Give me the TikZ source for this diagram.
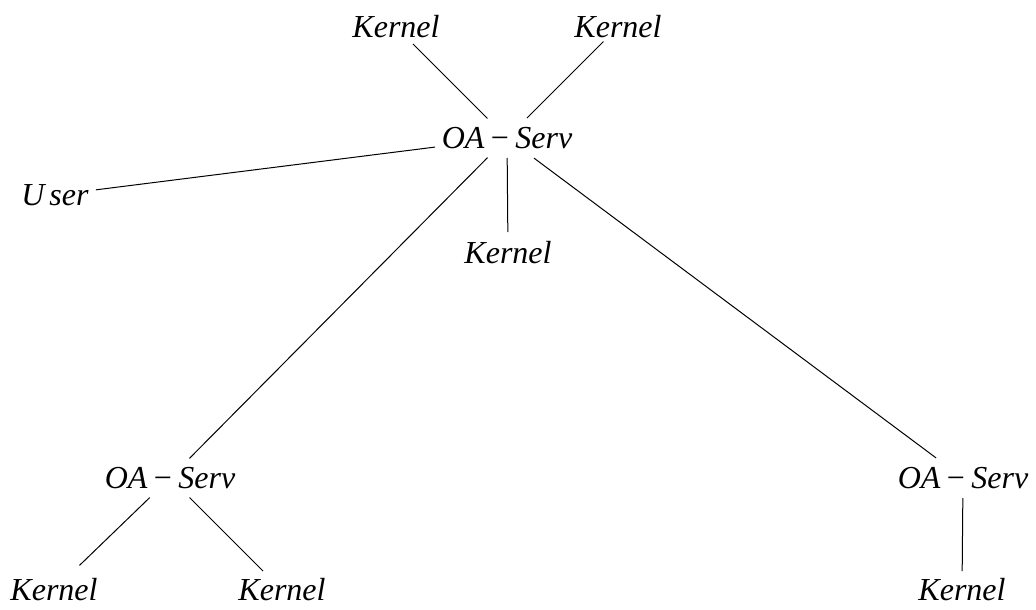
\documentclass[tikz,border=0pt]{standalone}
\usepackage{fontspec}
\setmainfont{Liberation Serif}
\begin{document}
\begin{tikzpicture}[x=0.5pt,y=-0.5pt,
  lbl/.style={inner sep=0pt, font=\fontsize{16}{19}\selectfont\itshape},
  edge/.style={line width=0.5pt, black}]
\useasboundingbox (0,0) rectangle (1036,609);
\newcommand{\oaserv}{OA\hspace{0.2em}\textup{−}\hspace{0.2em}Serv}
\node[lbl] (root) at (507,138) {\oaserv};
\node[lbl] (ktl)  at (396,27)  {Kernel};
\node[lbl] (ktr)  at (618,27)  {Kernel};
\node[lbl] (user) at (55,195)  {U\kern0.15em ser};
\node[lbl] (km)   at (508,253) {Kernel};
\node[lbl] (oal)  at (170,478) {\oaserv};
\node[lbl] (oar)  at (963,478) {\oaserv};
\node[lbl] (kbl)  at (54,590)  {Kernel};
\node[lbl] (kbr)  at (282,590) {Kernel};
\node[lbl] (kbrr) at (962,590) {Kernel};
\draw[edge, shorten <=13.8pt, shorten >=12pt]   (root.center) -- (ktl.center);
\draw[edge, shorten <=14.1pt, shorten >=10.3pt] (root.center) -- (ktr.center);
\draw[edge, shorten <=36.2pt, shorten >=20.6pt] (root.center) -- (user.center);
\draw[edge, shorten <=10pt,   shorten >=10.5pt] (root.center) -- (km.center);
\draw[edge, shorten <=13.8pt, shorten >=13.8pt] (root.center) -- (oal.center);
\draw[edge, shorten <=16.8pt, shorten >=16.8pt] (root.center) -- (oar.center);
\draw[edge, shorten <=14.1pt, shorten >=17.7pt] (oal.center) -- (kbl.center);
\draw[edge, shorten <=13.8pt, shorten >=13.4pt] (oal.center) -- (kbr.center);
\draw[edge, shorten <=10pt,   shorten >=9.5pt]  (oar.center) -- (kbrr.center);
\end{tikzpicture}
\end{document}
